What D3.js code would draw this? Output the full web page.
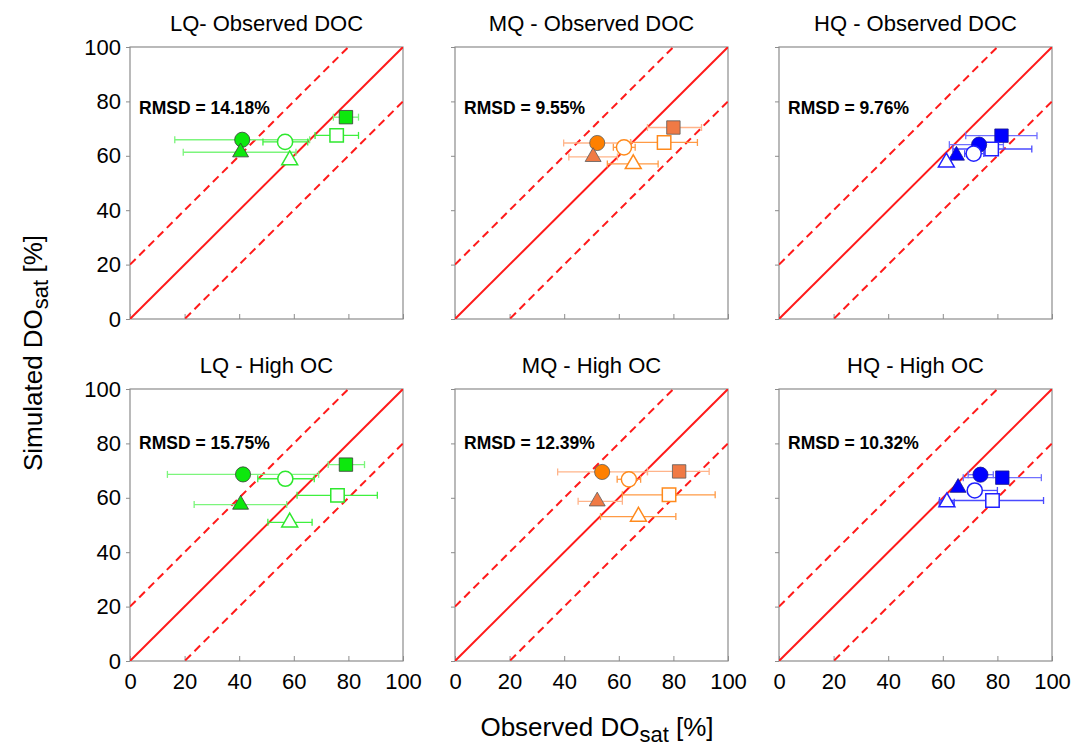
<!DOCTYPE html>
<head>
<meta charset="utf-8">
<title>Simulated vs Observed DOsat</title>
<script src="https://d3js.org/d3.v7.min.js"></script>
<style>
body { margin: 0; background: #fff; }
svg { font-family: Arial, "Liberation Sans", sans-serif; }
.frame { fill: none; stroke: #8c8c8c; stroke-width: 1.2; }
.tick line { stroke: #8c8c8c; }
.domain { display: none; }
.tick text { font-size: 22px; fill: #000; }
.title { font-size: 22px; text-anchor: middle; }
.rmsd { font-size: 17.5px; font-weight: bold; }
.axis-label { font-size: 26px; text-anchor: middle; }
</style>
</head>

<body>
<div id="chart"></div>

<script>

// panel titles and rmsd, row by row
var titles = ["LQ- Observed DOC", "MQ - Observed DOC", "HQ - Observed DOC",
              "LQ - High OC", "MQ - High OC", "HQ - High OC"];
var rmsd = ["14.18", "9.55", "9.76", "15.75", "12.39", "10.32"];
var ticks = [0, 20, 40, 60, 80, 100];

// series: shape + filled/open
var seriesShape = ["square", "square", "circle", "circle", "triangle", "triangle"];
var seriesFilled = [true, false, true, false, true, false];

// each row: [x, y, errLow, errHigh] in series order
var lqObs = [[79.1, 74.2, 74.5, 83.7], [75.7, 67.5, 67.8, 83.7], [41.1, 65.9, 16.4, 65.8],
             [56.8, 65.1, 48.7, 65.1], [40.5, 61.3, 19.5, 60.8], [58.5, 58.4, 58.5, 58.5]];
var mqObs = [[80.0, 70.4, 70.5, 90.3], [76.6, 64.9, 64.3, 88.8], [52.1, 64.7, 39.8, 64.4],
             [61.9, 63.1, 58.0, 66.0], [50.6, 59.6, 41.7, 59.5], [65.3, 57.0, 55.8, 74.4]];
var hqObs = [[81.5, 67.4, 68.4, 94.5], [77.9, 62.5, 63.7, 92.6], [73.3, 64.1, 62.4, 82.2],
             [71.3, 60.8, 68.0, 75.0], [65.0, 60.1, 65.0, 65.0], [61.3, 57.6, 60.0, 63.0]];
var lqHigh = [[79.1, 72.2, 72.6, 85.9], [76.0, 60.9, 61.2, 90.6], [41.4, 68.6, 13.7, 69.1],
              [56.9, 67.0, 46.8, 67.5], [40.5, 57.5, 23.5, 57.4], [58.5, 51.0, 50.5, 66.7]];
var mqHigh = [[82.1, 69.7, 70.5, 93.1], [78.4, 61.1, 61.3, 95.3], [53.9, 69.5, 37.6, 70.5],
              [63.7, 66.8, 59.4, 68.0], [52.1, 58.7, 45.1, 61.3], [67.2, 53.1, 53.3, 80.9]];
var hqHigh = [[81.8, 67.4, 67.5, 96.1], [78.2, 59.0, 58.8, 96.9], [73.8, 68.5, 69.3, 78.5],
              [71.7, 62.7, 69.3, 80.0], [65.6, 63.7, 65.6, 65.6], [61.5, 58.4, 58.7, 64.2]];

var panelData = [lqObs, mqObs, hqObs, lqHigh, mqHigh, hqHigh];

// colour sets per quality level: fill (circle / other), open stroke, error bars (filled / open)
var palettes = [
  { circ: "#0de80d", fill: "#0de80d", edge: "#3a3a3a", open: "#2ee82e", barF: "#7cf57c", barO: "#3ef03e" },
  { circ: "#ff8000", fill: "#f07a45", edge: "#5a5a5a", open: "#ff8a1c", barF: "#ffb48a", barO: "#ff9a45" },
  { circ: "#0000ff", fill: "#0000ff", edge: "#1a1a8a", open: "#2020ff", barF: "#7070ff", barO: "#4a4aff" }
];

var width = 1075;
var height = 746;
var colX = [130, 455, 779];
var rowY = [47, 389];
var pw = 273;
var ph = 272;

var svg = d3.select("#chart").append("svg")
  .attr("width", width)
  .attr("height", height);

var symbols = {
  square: d3.symbol().type(d3.symbolSquare).size(180),
  circle: d3.symbol().type(d3.symbolCircle).size(180),
  triangle: d3.symbol().type(d3.symbolTriangle).size(110)
};

panelData.forEach(function(rows, p) {
  var col = p % 3, row = Math.floor(p / 3);
  var pal = palettes[col];

  var x = d3.scaleLinear().domain([0, 100]).range([0, pw]);
  var y = d3.scaleLinear().domain([0, 100]).range([ph, 0]);

  var g = svg.append("g")
    .attr("transform", `translate(${colX[col]}, ${rowY[row]})`);

  g.append("clipPath").attr("id", "clip" + p)
    .append("rect").attr("width", pw).attr("height", ph);

  // axes
  var xAxis = d3.axisBottom(x).tickValues(ticks).tickSizeInner(-5).tickSizeOuter(0).tickPadding(12);
  var yAxis = d3.axisLeft(y).tickValues(ticks).tickSizeInner(4).tickSizeOuter(0).tickPadding(5);
  var xg = g.append("g").attr("transform", `translate(0, ${ph})`).call(xAxis);
  var yg = g.append("g").call(yAxis);
  if (row == 0) xg.selectAll("text").remove();
  if (col != 0) yg.selectAll("text").remove();

  g.append("rect").attr("class", "frame").attr("width", pw).attr("height", ph);

  // 1:1 and +-20 lines
  var lines = g.append("g").attr("clip-path", `url(#clip${p})`);
  [0, 20, -20].forEach(function(off) {
    lines.append("line")
      .attr("x1", x(0)).attr("y1", y(off))
      .attr("x2", x(100)).attr("y2", y(100 + off))
      .attr("stroke", "#ff1a1a")
      .attr("stroke-width", 2)
      .attr("stroke-dasharray", off == 0 ? null : "8,5");
  });

  // error bars
  var bars = g.append("g");
  rows.forEach(function(d, i) {
    if (d[3] - d[2] < 0.5) return;
    var c = seriesFilled[i] ? pal.barF : pal.barO;
    var b = bars.append("g").attr("stroke", c).attr("stroke-width", 1.3);
    b.append("line").attr("x1", x(d[2])).attr("x2", x(d[3])).attr("y1", y(d[1])).attr("y2", y(d[1]));
    b.append("line").attr("x1", x(d[2])).attr("x2", x(d[2])).attr("y1", y(d[1]) - 3.5).attr("y2", y(d[1]) + 3.5);
    b.append("line").attr("x1", x(d[3])).attr("x2", x(d[3])).attr("y1", y(d[1]) - 3.5).attr("y2", y(d[1]) + 3.5);
  });

  // markers
  g.append("g").selectAll("path")
    .data(rows).enter()
    .append("path")
    .attr("d", (d, i) => symbols[seriesShape[i]]())
    .attr("transform", d => `translate(${x(d[0])}, ${y(d[1])})`)
    .attr("fill", (d, i) => seriesFilled[i] ? (seriesShape[i] == "circle" ? pal.circ : pal.fill) : "#fff")
    .attr("stroke", (d, i) => seriesFilled[i] ? pal.edge : pal.open)
    .attr("stroke-width", (d, i) => seriesFilled[i] ? 0.8 : 1.5);

  g.append("text").attr("class", "title")
    .attr("x", pw / 2).attr("y", -16)
    .text(titles[p]);

  g.append("text").attr("class", "rmsd")
    .attr("x", 9).attr("y", row == 0 ? 67 : 60)
    .text("RMSD = " + rmsd[p] + "%");
});

// axis titles
var yl = svg.append("text").attr("class", "axis-label")
  .attr("transform", "translate(42, 353) rotate(-90)");
yl.append("tspan").text("Simulated DO");
yl.append("tspan").attr("dy", 6).style("font-size", "22px").text("sat");
yl.append("tspan").attr("dy", -6).text(" [%]");

var xl = svg.append("text").attr("class", "axis-label")
  .attr("x", 597).attr("y", 736);
xl.append("tspan").text("Observed DO");
xl.append("tspan").attr("dy", 6).style("font-size", "22px").text("sat");
xl.append("tspan").attr("dy", -6).text(" [%]");

</script>
</body>
</html>
